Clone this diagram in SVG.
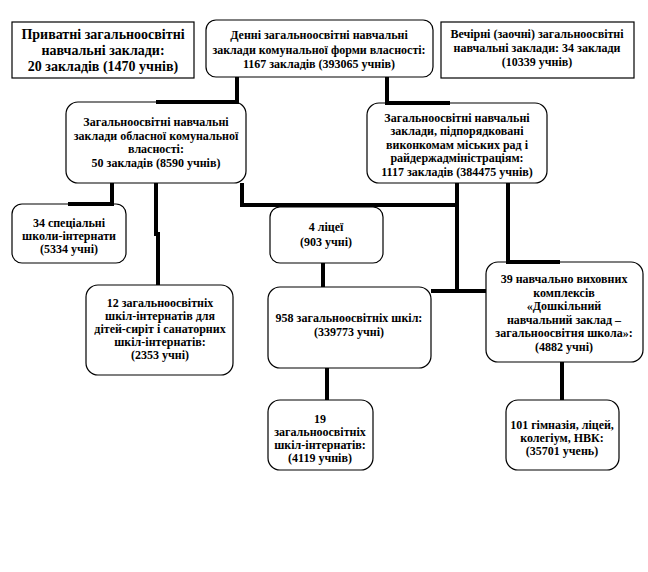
<svg xmlns="http://www.w3.org/2000/svg" width="648" height="572" viewBox="0 0 648 572">
<style>
.b{fill:#fff;stroke:#000;stroke-width:1.2}
.c{fill:none;stroke:#000;stroke-width:4}
text{font-family:"Liberation Serif","Times New Roman",serif;font-weight:bold;font-size:12px;fill:#000;text-anchor:middle}
.big{font-size:14px}
</style>
<rect width="648" height="572" fill="#fff"/>
<g id="n1"><rect class="b" x="12" y="22" width="182" height="56"/>
<text class="big" x="103" y="39">Приватні загальноосвітні</text>
<text class="big" x="103" y="55">навчальні заклади:</text>
<text class="big" x="103" y="71">20 закладів (1470 учнів)</text></g>
<g id="n2"><rect class="b" x="206" y="20" width="227" height="57" rx="10"/>
<text x="319" y="39">Денні загальноосвітні навчальні</text>
<text x="319" y="54">заклади комунальної форми власності:</text>
<text x="319" y="68">1167 закладів (393065 учнів)</text></g>
<g id="n3"><rect class="b" x="441" y="22" width="193" height="56"/>
<text x="537" y="38">Вечірні (заочні) загальноосвітні</text>
<text x="537" y="52">навчальні заклади: 34 заклади</text>
<text x="537" y="66">(10339 учнів)</text></g>
<g id="nA"><rect class="b" x="66" y="102" width="180" height="81" rx="12"/>
<text x="156" y="126">Загальноосвітні навчальні</text>
<text x="156" y="140">заклади обласної комунальної</text>
<text x="156" y="153">власності:</text>
<text x="156" y="167">50 закладів (8590 учнів)</text></g>
<g id="nB"><rect class="b" x="367" y="103" width="180" height="80" rx="12"/>
<text x="457" y="122">Загальноосвітні навчальні</text>
<text x="457" y="135">заклади, підпорядковані</text>
<text x="457" y="149">виконкомам міських рад і</text>
<text x="457" y="162">райдержадміністраціям:</text>
<text x="457" y="176">1117 закладів (384475 учнів)</text></g>
<g id="nC"><rect class="b" x="12" y="204" width="114" height="59" rx="10"/>
<text x="69" y="227">34 спеціальні</text>
<text x="69" y="240">школи-інтернати</text>
<text x="69" y="253">(5334 учні)</text></g>
<g id="nD"><rect class="b" x="86" y="285" width="147" height="90" rx="12"/>
<text x="160" y="307">12 загальноосвітніх</text>
<text x="160" y="320">шкіл-інтернатів для</text>
<text x="160" y="333">дітей-сиріт і санаторних</text>
<text x="160" y="346">шкіл-інтернатів:</text>
<text x="160" y="359">(2353 учні)</text></g>
<g id="nL"><rect class="b" x="270" y="207" width="113" height="56" rx="10"/>
<text x="326" y="231">4 ліцеї</text>
<text x="326" y="246">(903 учні)</text></g>
<g id="nE"><rect class="b" x="268" y="287" width="163" height="81" rx="12"/>
<text x="349" y="322">958 загальноосвітніх шкіл:</text>
<text x="349" y="336">(339773 учні)</text></g>
<g id="nF"><rect class="b" x="486" y="262" width="157" height="100" rx="12"/>
<text x="564" y="283">39 навчально виховних</text>
<text x="564" y="297">комплексів</text>
<text x="564" y="310">«Дошкільний</text>
<text x="564" y="324">навчальний заклад –</text>
<text x="564" y="337">загальноосвітня школа»:</text>
<text x="564" y="351">(4882 учні)</text></g>
<g id="nG"><rect class="b" x="268" y="400" width="105" height="70" rx="12"/>
<text x="320" y="423">19</text>
<text x="320" y="436">загальноосвітніх</text>
<text x="320" y="449">шкіл-інтернатів:</text>
<text x="320" y="462">(4119 учнів)</text></g>
<g id="nH"><rect class="b" x="506" y="400" width="113" height="70" rx="12"/>
<text x="562" y="429">101 гімназія, ліцей,</text>
<text x="562" y="442">колегіум, НВК:</text>
<text x="562" y="455">(35701 учень)</text></g>
<g id="connectors">
<path class="c" d="M237,77 V102 H156"/>
<path class="c" d="M387,77 V103 H450"/>
<path class="c" d="M112,183 V204 H68"/>
<path class="c" d="M156,183 V234 H158 V285"/>
<path class="c" d="M242,183 V205 H457"/>
<path class="c" d="M457,183 V291"/>
<path class="c" d="M431,291 H486"/>
<path class="c" d="M508,183 V262 H560"/>
<path class="c" d="M323,263 V287"/>
<path class="c" d="M327,368 V400"/>
<path class="c" d="M562,362 V400"/>
</g>
</svg>
